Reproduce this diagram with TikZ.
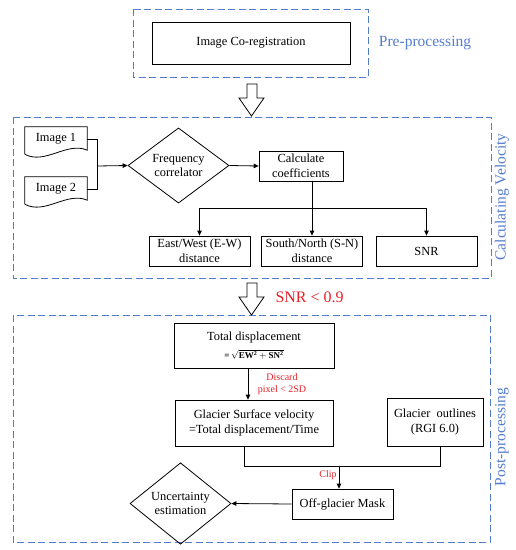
\documentclass[tikz,border=0pt]{standalone}
\usepackage{fontspec}
\setmainfont{Liberation Serif}
\usetikzlibrary{shapes.geometric,arrows.meta,positioning,calc}
\definecolor{frameblue}{RGB}{84,124,204}
\definecolor{notered}{RGB}{232,32,40}

\begin{document}
\begin{tikzpicture}[x=1pt, y=-1pt,
    every node/.style={font=\fontsize{12.4}{14.6}\selectfont},
    box/.style={rectangle, draw, line width=0.8pt, align=center, inner sep=2pt},
    decision/.style={diamond, draw, line width=0.8pt, align=center, inner sep=0pt},
    frame/.style={draw=frameblue, line width=1pt, dash pattern=on 7pt off 3.5pt},
    framelabel/.style={text=frameblue, font=\fontsize{15.5}{18}\selectfont},
    note/.style={text=notered, font=\fontsize{10}{11.5}\selectfont, align=center},
    line/.style={line width=0.8pt},
    >={Triangle[length=5pt,width=4.5pt]},
]
    \useasboundingbox (0,0) rectangle (516,550);

    % Section frames
    \draw[frame] (133,9) rectangle (368,77);
    \draw[frame] (13,117) rectangle (491,278);
    \draw[frame] (13,315) rectangle (490,542);
    \node[framelabel] (prelab) at (425,43) {Pre-processing};
    \node[framelabel, rotate=90] (vellab) at (502,197) {Calculating Velocity};
    \node[framelabel, rotate=90] (postlab) at (502,437) {Post-processing};

    % Pre-processing
    \node[box, minimum width=198, minimum height=42] (coreg) at (251,43) {Image Co-registration};

    % Hollow arrows between the stages
    \foreach \t in {84,283} {
        \draw[line, fill=white] (247,\t) -- (257,\t) -- (257,\t+14) -- (264,\t+14)
            -- (251.5,\t+32) -- (239,\t+14) -- (247,\t+14) -- cycle;
    }
    \node[text=notered, font=\fontsize{16}{19}\selectfont, anchor=west] (snrlim) at (272,297) {SNR < 0.9};

    % Calculating velocity: input images (document shapes)
    \node[minimum width=62, minimum height=24, inner sep=0pt] (img1) at (56,139) {Image 1};
    \node[minimum width=62, minimum height=24, inner sep=0pt] (img2) at (56,189) {Image 2};
    \foreach \im in {img1,img2} {
        \draw[line] ($(\im.south west)+(0,3)$) -- (\im.north west) -- (\im.north east)
            -- ($(\im.south east)+(0,-1)$) .. controls +(-20,-9) and +(20,11) .. ($(\im.south west)+(0,3)$);
    }
    \coordinate (join) at (97,166);
    \draw[line] (img1.east) -| (join);
    \draw[line] (img2.east) -| (join);

    \node[decision, minimum width=101, minimum height=55] (freq) at (178.5,165.5) {Frequency\\correlator};
    \node[box, minimum width=84, minimum height=30] (calc) at (301,166) {Calculate\\coefficients};
    \draw[line, ->] (join) -- (freq.west);
    \draw[line, ->] (freq.east) -- (calc.west);

    % Outputs of the correlator
    \node[box, minimum width=101, minimum height=30] (ew) at (199.5,251) {East/West (E-W)\\distance};
    \node[box, minimum width=101, minimum height=30] (sn) at (312,251) {South/North (S-N)\\distance};
    \node[box, minimum width=101, minimum height=30] (snr) at (426.5,251) {SNR};
    \coordinate (split) at (312,208);
    \draw[line] (calc.south -| split) -- (split);
    \foreach \b in {ew,sn,snr} {
        \draw[line, ->] (split) -| (\b.north);
    }

    % Post-processing
    \node[box, minimum width=160, minimum height=45] (total) at (254,345.5)
        {Total displacement\\[3pt]{\fontsize{9}{10}\selectfont\bfseries =\,$\sqrt{\mathbf{EW^2+SN^2}}$}};
    \node[box, minimum width=158, minimum height=46] (gsv) at (254,423)
        {Glacier Surface velocity\\=Total displacement/Time};
    \node[box, minimum width=96, minimum height=48] (outl) at (435,422) {Glacier\ \ outlines\\(RGI 6.0)};
    \draw[line, ->] ([xshift=-6]total.south) -- ([xshift=-6]gsv.north);
    \node[note] (discard) at (282,384) {Discard\\pixel < 2SD};

    \node[box, minimum width=101, minimum height=30] (mask) at (342.5,504) {Off-glacier Mask};
    \draw[line] ([xshift=-10]gsv.south) -- ++(0,20) -| ([xshift=5]outl.south);
    \draw[line, ->] ($(mask.north)+(-3.5,-23)$) -- ([xshift=-3.5]mask.north);
    \node[note] (clip) at (328,475) {Clip};

    \node[decision, minimum width=101, minimum height=61] (unc) at (180.5,503.5) {Uncertainty\\estimation};
    \draw[line, ->] (mask.west) -- (unc.east);
\end{tikzpicture}
\end{document}
